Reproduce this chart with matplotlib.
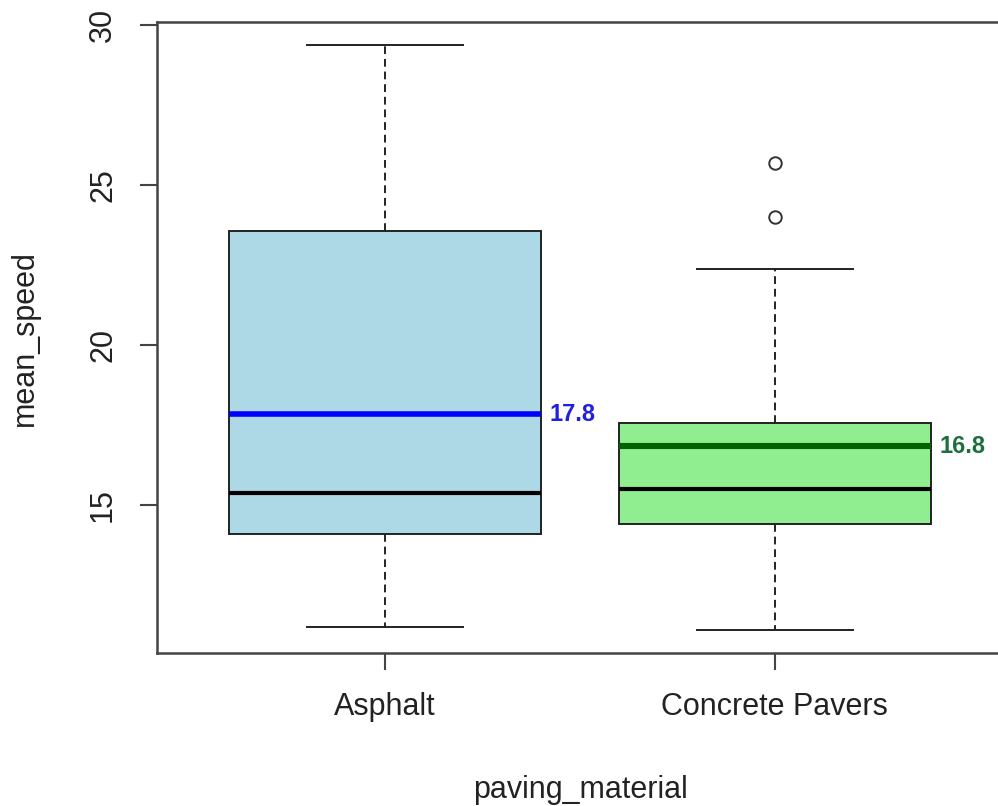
import matplotlib
matplotlib.use("Agg")
import matplotlib.pyplot as plt

# box stats
materials = ["Asphalt", "Concrete Pavers"]
whislo = [11.2, 11.1]
q1 = [14.08, 14.41]
med = [15.37, 15.5]
q3 = [23.55, 17.56]
whishi = [29.38, 22.38]
means = [17.84, 16.84]
fliers = [[], [25.69, 24.0]]

box_colors = ["#ADD8E6", "#90EE90"]
mean_colors = ["#0000FF", "#006400"]
label_colors = ["#2020E0", "#1E6E3E"]

plt.rcParams['font.family'] = ['Liberation Sans', 'DejaVu Sans']

W, H = 998, 806
fig = plt.figure(figsize=(W / 100.0, H / 100.0), dpi=100)
# axes frame runs past the right edge of the picture, like the cropped original
ax = fig.add_axes([157.0 / W, (H - 653.0) / H, 846.0 / W, 631.0 / H])

stats = []
for i in range(len(materials)):
	stats.append({"label": materials[i], "whislo": whislo[i], "q1": q1[i], "med": med[i],
				  "q3": q3[i], "whishi": whishi[i], "fliers": fliers[i]})

pos = [1, 2]
bp = ax.bxp(stats, positions=pos, widths=0.8, patch_artist=True, showfliers=True,
			boxprops=dict(edgecolor="#222222", linewidth=1.4),
			whiskerprops=dict(color="#222222", linewidth=1.4, linestyle=(0, (4, 2.5))),
			capprops=dict(color="#222222", linewidth=1.4),
			medianprops=dict(color="black", linewidth=3.0, solid_capstyle="butt"),
			flierprops=dict(marker="o", markerfacecolor="none", markeredgecolor="#333333",
							markersize=9, markeredgewidth=1.4))
for patch, c in zip(bp["boxes"], box_colors):
	patch.set_facecolor(c)

#mean lines + labels
for p, m, mc, lc, lw in zip(pos, means, mean_colors, label_colors, [4.0, 4.4]):
	ax.plot([p - 0.4, p + 0.4], [m, m], color=mc, linewidth=lw, solid_capstyle="butt", zorder=5)
	ax.annotate("%.1f" % m, xy=(p + 0.4, m), xytext=(6, 0), textcoords="offset points",
				ha="left", va="center", color=lc, fontsize=17, fontweight="bold")

ax.set_xlim(0.415, 2.585)
ax.set_ylim(10.375, 30.09)
ax.set_yticks([15, 20, 25, 30])
ax.set_xticks(pos)
ax.set_xticklabels(materials)

for s in ax.spines.values():
	s.set_linewidth(1.8)
	s.set_color("#444444")

ax.tick_params(axis="both", length=12, width=1.5, color="#444444", labelsize=22, labelcolor="#222222")
ax.tick_params(axis="x", pad=16)
ax.tick_params(axis="y", pad=16)
for t in ax.get_yticklabels():
	t.set_rotation(90)
	t.set_va("center")

fig.text(580.0 / W, 1 - 790.0 / H, "paving_material", ha="center", va="center", fontsize=22, color="#222222")
fig.text(25.0 / W, 1 - 338.0 / H, "mean_speed", ha="center", va="center", rotation=90, fontsize=22, color="#222222")

fig.savefig("out.png", dpi=100)
